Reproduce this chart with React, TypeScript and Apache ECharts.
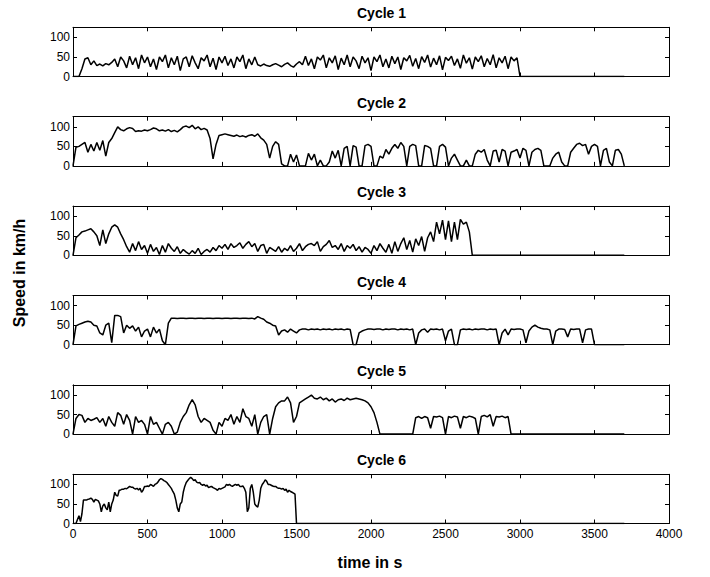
import React, { useEffect, useRef } from "react";
import * as echarts from "echarts";

// Time steps (s) between samples of each cycle
const cycleSteps = [20, 20, 20, 20, 20, 10];
const cycleNames = ["Cycle 1", "Cycle 2", "Cycle 3", "Cycle 4", "Cycle 5", "Cycle 6"];
const padEnd = 3700; // all cycles are padded with zero speed up to this time
const xTicks = [0, 500, 1000, 1500, 2000, 2500, 3000, 3500, 4000];
const yTicks = [0, 50, 100];

const cycle1Speed = [
  0, 0, 0, 20, 45, 48, 30, 40,
  28, 32, 27, 33, 30, 36,
  45, 25, 50, 40, 22, 52, 30, 48, 20, 55, 35, 50, 25,
  45, 18, 50, 38, 55, 22, 48, 30, 52, 15, 45, 50, 25, 53, 35, 20, 48, 40, 55, 25,
  47, 18, 50, 35, 52, 28, 45, 22, 50, 38, 55, 20, 45, 30, 50,
  30, 27, 32, 28, 26, 30, 33, 29, 25, 31, 35, 28, 24, 32, 38, 30,
  52, 28, 45, 20, 50, 42, 55, 22, 48, 35,
  53, 18, 47, 30, 55, 25, 50, 40, 20, 52,
  35, 48, 15, 50, 38, 55, 25, 45, 22, 52,
  33, 50, 18, 48, 40, 54, 26, 46, 20, 51,
  36, 55, 24, 47, 30, 53, 17, 49, 41, 52,
  28, 45, 21, 55, 34, 48, 19, 50, 38, 53,
  25, 46, 30, 56, 22, 48, 35, 52, 20, 50,
  40, 48,
  0,
];

const cycle2Speed = [
  0, 48, 50, 55, 60, 35, 55, 38, 60, 40,
  65, 25, 60, 70, 85, 100, 93, 90, 95, 98,
  96, 88, 90, 89, 92, 90, 93, 97, 95, 90,
  92, 89, 93, 88, 91, 87, 93, 100, 102, 98,
  104, 95, 100, 93, 96, 92, 70, 18, 55, 78,
  80, 82, 80, 78, 76, 79, 75, 77, 74, 78,
  80, 76, 82, 72, 66, 55, 20, 50, 62, 55,
  5, 0, 0, 30, 10, 28, 0, 0, 0, 32,
  15, 30, 0, 15, 0, 0, 10, 38, 20, 40,
  0, 45, 50, 0, 52, 48, 0, 0, 52, 55,
  50, 0, 0, 25, 20, 42, 30, 45, 55, 45,
  60, 50, 0, 50, 55, 52, 0, 0, 52, 50,
  45, 0, 0, 50, 55, 48, 0, 20, 30, 15,
  0, 0, 15, 0, 0, 30, 40, 35, 42, 15,
  0, 38, 40, 10, 42, 38, 0, 35, 38, 42,
  20, 45, 40, 0, 35, 42, 45, 40, 0, 0,
  0, 20, 30, 35, 10, 0, 0, 35, 45, 55,
  58, 52, 55, 30, 50, 55, 50, 0, 40, 45,
  10, 0, 40, 42, 30, 0,
];

const cycle3Speed = [
  0, 45, 52, 60, 62, 65, 68, 60, 50, 25,
  65, 30, 55, 72, 78, 72, 55, 40, 22, 8,
  30, 12, 35, 15, 25, 5, 28, 10, 20, 2,
  25, 8, 30, 18, 10, 22, 5, 15, 8, 3,
  12, 5, 18, 2, 10, 15, 8, 20, 12, 25,
  18, 28, 15, 30, 20, 25, 32, 18, 28, 35,
  22, 30, 10, 25, 28, 5, 20, 15, 10, 22,
  8, 18, 12, 25, 10, 18, 30, 12, 22, 28,
  30, 25, 35, 10, 22, 28, 38, 20, 25, 15,
  30, 10, 25, 18, 28, 12, 22, 8, 20, 15,
  5, 25, 12, 30, 18, 8, 28, 5, 35, 10,
  30, 45, 15, 38, 8, 42, 25, 48, 10, 45,
  60, 35, 85, 55, 90, 40, 88, 35, 85, 40,
  92, 80, 85, 60, 0,
];

const cycle4Speed = [
  0, 48, 52, 55, 58, 60, 58, 50, 48, 30,
  25, 50, 55, 5, 75, 75, 72, 30, 50, 42,
  48, 35, 45, 20, 35, 40, 20, 45, 30, 40,
  10, 0, 55, 68, 68, 67, 68, 68, 67, 68,
  68, 67, 68, 68, 67, 68, 68, 67, 68, 68,
  67, 68, 68, 67, 68, 68, 67, 68, 68, 67,
  68, 66, 72, 68, 65, 58, 55, 50, 48, 25,
  35, 38, 32, 40, 35, 30, 38, 40, 40, 38,
  40, 39, 40, 38, 40, 39, 40, 38, 40, 39,
  40, 38, 40, 39, 0, 0, 30, 35, 38, 40,
  40, 39, 40, 40, 38, 40, 39, 40, 40, 38,
  40, 39, 40, 38, 40, 0, 30, 38, 40, 32,
  40, 39, 40, 38, 40, 10, 35, 40, 0, 0,
  38, 40, 39, 40, 38, 40, 39, 40, 40, 38,
  40, 39, 40, 0, 30, 40, 25, 40, 39, 40,
  40, 38, 5, 35, 45, 50, 45, 42, 40, 40,
  38, 0, 35, 40, 40, 39, 20, 40, 39, 40,
  40, 5, 38, 40, 40, 0,
];

const cycle5Speed = [
  0, 40, 50, 48, 30, 40, 35, 38, 42, 30,
  40, 20, 45, 30, 20, 55, 48, 25, 50, 35,
  0, 45, 30, 35, 25, 0, 45, 25, 30, 15,
  0, 25, 30, 20, 0, 5, 30, 45, 55, 75,
  88, 75, 45, 30, 40, 35, 30, 10, 0, 30,
  20, 40, 35, 50, 25, 45, 30, 65, 45, 40,
  20, 50, 0, 30, 45, 50, 0, 40, 70, 80,
  85, 85, 95, 80, 30, 45, 80, 85, 90, 95,
  100, 92, 90, 95, 88, 92, 85, 90, 82, 88,
  90, 86, 92, 88, 90, 92, 90, 88, 85, 80,
  70, 55, 30, 0, 0, 0, 0, 0, 0, 0,
  0, 0, 0, 0, 0, 42, 45, 40, 45, 42,
  15, 45, 44, 46, 42, 0, 45, 42, 46, 44,
  15, 45, 42, 46, 44, 40, 0, 45, 48, 44,
  50, 20, 45, 44, 46, 42, 45, 0,
];

const cycle6Speed = [
  0, 0, 0, 10, 20, 5, 25, 60, 60, 60,
  62, 63, 65, 62, 55, 62, 60, 58, 50, 30,
  45, 50, 40, 35, 55, 30, 50, 60, 80, 72,
  70, 85, 86, 88, 88, 90, 89, 92, 95, 93,
  93, 90, 88, 90, 86, 90, 80, 85, 95, 95,
  96, 95, 100, 98, 95, 100, 102, 106, 112, 115,
  113, 110, 108, 105, 100, 95, 90, 82, 75, 60,
  40, 30, 50, 55, 80, 95, 105, 110, 115, 118,
  115, 110, 112, 106, 104, 105, 100, 98, 100, 96,
  98, 92, 94, 95, 92, 90, 88, 85, 90, 88,
  90, 92, 94, 100, 98, 100, 97, 95, 98, 100,
  98, 100, 95, 95, 96, 90, 80, 30, 40, 90,
  100, 80, 50, 45, 42, 60, 90, 100, 105, 112,
  108, 100, 100, 98, 96, 95, 95, 92, 90, 90,
  88, 90, 85, 88, 80, 85, 82, 80, 78, 75,
  0,
];

const cycleSpeeds = [cycle1Speed, cycle2Speed, cycle3Speed, cycle4Speed, cycle5Speed, cycle6Speed];

const FONT = '"Liberation Sans", Arial, Helvetica, sans-serif';

export default function App() {
  const ref = useRef<HTMLDivElement>(null);

  useEffect(() => {
    if (!ref.current) return;
    const chart = echarts.init(ref.current, undefined, { renderer: "svg" });

    const gridLeft = 73;
    const gridWidth = 596;
    const gridTop0 = 27.3;
    const gridGap = 89.4;
    const gridHeight = 49.2;

    const grids: any[] = [];
    const xAxes: any[] = [];
    const yAxes: any[] = [];
    const series: any[] = [];
    const titles: any[] = [];

    const axisLineStyle = { color: "#000", width: 1 };

    cycleSpeeds.forEach((speeds, k) => {
      const top = gridTop0 + k * gridGap;
      grids.push({ left: gridLeft, top, width: gridWidth, height: gridHeight, containLabel: false });

      const baseX = {
        gridIndex: k,
        type: "value",
        min: xTicks[0],
        max: xTicks[xTicks.length - 1],
        interval: xTicks[1] - xTicks[0],
        splitLine: { show: false },
        axisLine: { show: true, onZero: false, lineStyle: axisLineStyle },
        axisTick: { show: true, inside: true, length: 4, lineStyle: axisLineStyle },
      };
      xAxes.push({
        ...baseX,
        position: "bottom",
        axisLabel: {
          show: k === cycleSpeeds.length - 1,
          color: "#000",
          fontSize: 12,
          fontFamily: FONT,
          margin: 4,
          formatter: (v: number) => String(v),
        },
      });
      xAxes.push({ ...baseX, position: "top", axisLabel: { show: false } });

      const baseY = {
        gridIndex: k,
        type: "value",
        min: 0,
        max: 126,
        splitLine: { show: false },
        axisLine: { show: true, onZero: false, lineStyle: axisLineStyle },
        axisTick: { show: true, inside: true, length: 4, lineStyle: axisLineStyle, customValues: yTicks },
      };
      yAxes.push({
        ...baseY,
        position: "left",
        axisLabel: {
          show: true,
          customValues: yTicks,
          hideOverlap: false,
          color: "#000",
          fontSize: 12,
          fontFamily: FONT,
          margin: 3,
          formatter: (v: number) => String(v),
        },
      });
      yAxes.push({ ...baseY, position: "right", axisLabel: { show: false } });

      const step = cycleSteps[k];
      const data: number[][] = speeds.map((v, i) => [i * step, v]);
      const lastT = (speeds.length - 1) * step;
      if (lastT < padEnd) data.push([padEnd, 0]);

      series.push({
        type: "line",
        xAxisIndex: k * 2,
        yAxisIndex: k * 2,
        data,
        showSymbol: false,
        symbol: "none",
        silent: true,
        lineStyle: { color: "#000", width: 1.5 },
      });

      titles.push({
        text: cycleNames[k],
        left: 357,
        top: top - 21,
        padding: 0,
        textStyle: { color: "#000", fontSize: 14, fontWeight: "bold", fontFamily: FONT },
      });
    });

    chart.setOption({
      animation: false,
      backgroundColor: "#fff",
      title: titles,
      grid: grids,
      xAxis: xAxes,
      yAxis: yAxes,
      series,
      graphic: [
        {
          type: "text",
          x: 19,
          y: 273,
          rotation: Math.PI / 2,
          style: {
            text: "Speed in km/h",
            fill: "#000",
            font: `bold 16px ${FONT}`,
            textAlign: "center",
            textVerticalAlign: "middle",
          },
        },
        {
          type: "text",
          x: 370,
          y: 562,
          style: {
            text: "time in s",
            fill: "#000",
            font: `bold 16px ${FONT}`,
            textAlign: "center",
            textVerticalAlign: "middle",
          },
        },
      ],
    });

    return () => chart.dispose();
  }, []);

  return (
    <div
      ref={ref}
      style={{ position: "fixed", left: 0, top: 0, width: 710, height: 577, background: "#fff" }}
    />
  );
}
